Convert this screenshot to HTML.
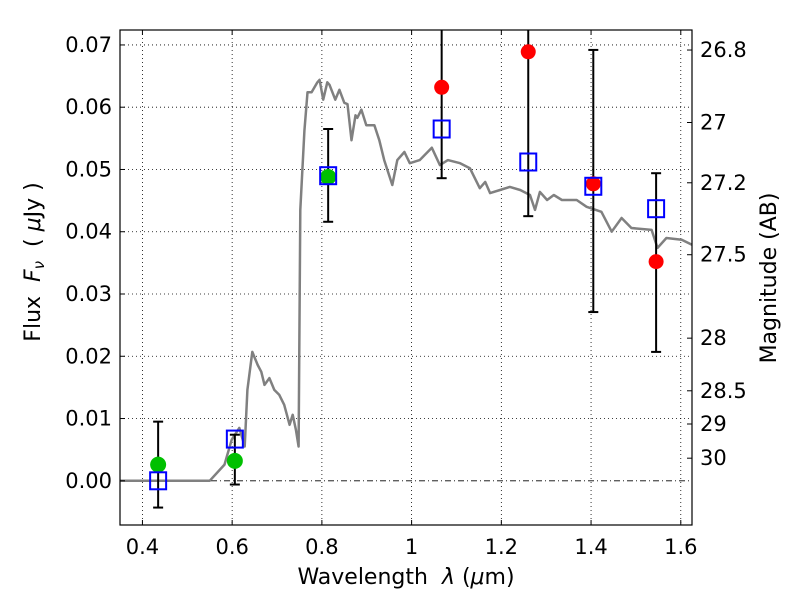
<!DOCTYPE html>
<html><head><meta charset="utf-8"><style>
html,body{margin:0;padding:0;background:#fff;}
svg{display:block;font-family:"DejaVu Sans","Liberation Sans",sans-serif;}
</style></head><body>
<svg id="chart" width="800" height="600" viewBox="0 0 800 600" xmlns="http://www.w3.org/2000/svg">
<rect width="800" height="600" fill="#fff"/>
<defs><clipPath id="clip"><rect x="120" y="30" width="572" height="495"/></clipPath></defs>
<g id="grid"></g>
<g id="plot" clip-path="url(#clip)"></g>
<g id="marks"></g>
<rect x="120" y="30" width="572" height="495" fill="none" stroke="#000" stroke-width="1.2"/>
<g id="axes"></g>
<text x="406" y="584" font-size="22" text-anchor="middle">Wavelength&#160;&#160;<tspan font-style="italic">λ</tspan>&#160;(<tspan font-style="italic">μ</tspan>m)</text>
<text transform="translate(40,262) rotate(-90)" font-size="22" text-anchor="middle">Flux&#160;&#160;<tspan font-style="italic">F<tspan font-size="15" dy="4">ν</tspan></tspan><tspan dy="-4">&#160;&#160;(&#160;</tspan><tspan font-style="italic">μ</tspan>Jy&#160;)</text>
<text transform="translate(776,278) rotate(-90)" font-size="22" text-anchor="middle">Magnitude (AB)</text>
</svg>
<script>
const xTicks=[0.4,0.6,0.8,1.0,1.2,1.4,1.6];
const xTickLabels=["0.4","0.6","0.8","1","1.2","1.4","1.6"];
const yTicks=[0,0.01,0.02,0.03,0.04,0.05,0.06,0.07];
const yTickLabels=["0.00","0.01","0.02","0.03","0.04","0.05","0.06","0.07"];
const magTicks=[26.8,27,27.2,27.5,28,28.5,29,30];
const magTickLabels=["26.8","27","27.2","27.5","28","28.5","29","30"];
const sedWave=[0.35,0.55,0.583,0.599,0.616,0.628,0.634,0.645,0.657,0.665,0.672,0.683,0.694,0.705,0.716,0.728,0.735,0.742,0.748,0.752,0.761,0.768,0.777,0.790,0.795,0.803,0.812,0.817,0.830,0.839,0.850,0.857,0.866,0.875,0.879,0.888,0.899,0.917,0.928,0.939,0.957,0.968,0.984,0.996,1.018,1.045,1.063,1.081,1.108,1.130,1.152,1.164,1.175,1.197,1.219,1.242,1.264,1.275,1.286,1.302,1.317,1.335,1.368,1.390,1.423,1.446,1.468,1.490,1.535,1.548,1.568,1.602,1.625];
const sedFlux=[0,0,0.0026,0.0066,0.0085,0.0055,0.0146,0.0207,0.0186,0.0175,0.0154,0.0165,0.0146,0.0138,0.0122,0.0090,0.0106,0.0082,0.0055,0.0435,0.0562,0.0624,0.0624,0.064,0.0644,0.0612,0.064,0.0636,0.0612,0.0628,0.0607,0.0605,0.0547,0.0587,0.0583,0.0596,0.0571,0.0571,0.0547,0.0515,0.0475,0.0515,0.0528,0.051,0.0515,0.0535,0.0507,0.0515,0.051,0.0502,0.047,0.048,0.0462,0.0467,0.0472,0.0467,0.0459,0.0435,0.0464,0.0451,0.0459,0.0451,0.0451,0.044,0.0432,0.04,0.0422,0.0406,0.0403,0.0374,0.039,0.0387,0.0379];
const bandWave=[0.435,0.606,0.814,1.067,1.26,1.405,1.545];
const modelFlux=[0,0.0067,0.049,0.0565,0.0512,0.0473,0.0437];
const errLow=[-0.0043,-0.0006,0.0416,0.0486,0.0425,0.0271,0.0207];
const errHigh=[0.0095,0.0074,0.0565,0.080,0.080,0.0692,0.0494];
const greenWave=[0.435,0.606,0.814];
const greenFlux=[0.0026,0.0032,0.0488];
const redWave=[1.067,1.26,1.405,1.545];
const redFlux=[0.0632,0.0689,0.0477,0.0352];

const NS="http://www.w3.org/2000/svg";
const X0=0.35,X1=1.625,Y0=-0.0071,Y1=0.0724,L=120,R=692,T=30,B=525;
function sx(v){return L+(v-X0)/(X1-X0)*(R-L);}
function sy(v){return B-(v-Y0)/(Y1-Y0)*(B-T);}
function magToFlux(m){return Math.pow(10,(23.9-m)/2.5);}
function mk(tag,attrs,parent){const e=document.createElementNS(NS,tag);for(const k in attrs)e.setAttribute(k,attrs[k]);parent.appendChild(e);return e;}
const grid=document.getElementById('grid'),plot=document.getElementById('plot'),marks=document.getElementById('marks'),axes=document.getElementById('axes');

xTicks.forEach((t,i)=>{const x=sx(t);
 const g=mk('line',{x1:x,x2:x,y1:T,y2:B,stroke:'#000','stroke-width':0.8,'stroke-dasharray':'1,3'},grid);
 
 
 mk('line',{x1:x,x2:x,y1:B,y2:B-5,stroke:'#000'},axes);
 mk('line',{x1:x,x2:x,y1:T,y2:T+5,stroke:'#000'},axes);
 const tx=mk('text',{x:x,y:B+29,'font-size':21,'text-anchor':'middle'},axes);tx.textContent=xTickLabels[i];
 
 
});
yTicks.forEach((t,i)=>{const y=sy(t);
 const g=mk('line',{x1:L,x2:R,y1:y,y2:y,stroke:'#000','stroke-width':0.8,'stroke-dasharray':t===0?'6,3,1,3':'1,3'},grid);
 
 
 mk('line',{x1:L,x2:L+5,y1:y,y2:y,stroke:'#000'},axes);
 const tx=mk('text',{x:L-8,y:y+7,'font-size':21,'text-anchor':'end'},axes);tx.textContent=yTickLabels[i];
 
 
});
magTicks.forEach((m,i)=>{const y=sy(magToFlux(m));
 mk('line',{x1:R,x2:R-5,y1:y,y2:y,stroke:'#000'},axes);
 const tx=mk('text',{x:R+8,y:y+7,'font-size':21,'text-anchor':'start'},axes);tx.textContent=magTickLabels[i];
 
 
});
let d='';sedWave.forEach((w,i)=>{d+=(i?'L':'M')+sx(w).toFixed(1)+','+sy(sedFlux[i]).toFixed(1);});
const sed=mk('path',{d:d,fill:'none',stroke:'#808080','stroke-width':2.5,'stroke-linejoin':'round'},plot);


bandWave.forEach((w,i)=>{const x=sx(w),y1=Math.max(T,sy(errHigh[i])),y2=sy(errLow[i]);
 const e=mk('g',{stroke:'#000','stroke-width':2},marks);
 
 
 mk('line',{x1:x,x2:x,y1:y1,y2:y2},e);
 if(sy(errHigh[i])>T)mk('line',{x1:x-5,x2:x+5,y1:y1,y2:y1},e);
 mk('line',{x1:x-5,x2:x+5,y1:y2,y2:y2},e);
});
greenWave.forEach((w,i)=>{const c=mk('circle',{cx:sx(w),cy:sy(greenFlux[i]),r:8,fill:'#00c000'},marks);
 
 });
redWave.forEach((w,i)=>{const c=mk('circle',{cx:sx(w),cy:sy(redFlux[i]),r:7.5,fill:'#ff0000'},marks);
 
 });
bandWave.forEach((w,i)=>{const s=mk('rect',{x:sx(w)-8,y:sy(modelFlux[i])-8.5,width:16,height:17,fill:'none',stroke:'#0000ff','stroke-width':2},marks);
 
 });
</script>
</body></html>
